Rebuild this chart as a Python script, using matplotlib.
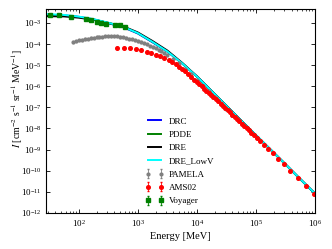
import numpy as np
import matplotlib
matplotlib.use('Agg')
import matplotlib.pyplot as plt

plt.rcParams['font.family'] = ['Liberation Serif', 'DejaVu Serif']
plt.rcParams['mathtext.fontset'] = 'stix'

# log10 of kinetic energy [MeV] and log10 of intensity
model_loge = np.array([1.45, 1.75, 2.0, 2.25, 2.5, 2.75, 3.0, 3.25, 3.5, 3.75,
                       4.0, 4.25, 4.5, 4.75, 5.0, 5.25, 5.5, 5.75, 6.0])
drc = np.array([-2.61, -2.64, -2.71, -2.83, -3.01, -3.20, -3.50, -3.92, -4.36, -4.92,
                -5.54, -6.23, -6.93, -7.63, -8.32, -9.01, -9.70, -10.40, -11.09])
pdde = np.array([-2.62, -2.65, -2.72, -2.84, -3.00, -3.18, -3.48, -3.90, -4.35, -4.91,
                 -5.54, -6.23, -6.93, -7.63, -8.32, -9.01, -9.70, -10.40, -11.09])
dre = np.array([-2.68, -2.69, -2.75, -2.85, -3.00, -3.16, -3.45, -3.86, -4.31, -4.89,
                -5.53, -6.23, -6.93, -7.63, -8.32, -9.01, -9.70, -10.40, -11.09])
dre_lowv = np.array([-2.58, -2.62, -2.70, -2.82, -2.99, -3.18, -3.48, -3.90, -4.35, -4.91,
                     -5.54, -6.23, -6.93, -7.63, -8.32, -9.01, -9.70, -10.40, -11.09])

pam_loge = np.array([1.90, 1.95, 2.00, 2.05, 2.10, 2.15, 2.20, 2.25, 2.30, 2.35, 2.40,
                     2.45, 2.50, 2.55, 2.60, 2.65, 2.70, 2.75, 2.80, 2.85, 2.90, 2.95,
                     3.00, 3.05, 3.10, 3.15, 3.20, 3.25, 3.30, 3.35, 3.40, 3.45, 3.50,
                     3.60, 3.70, 3.80, 3.90, 4.00, 4.10, 4.20, 4.30, 4.40, 4.50, 4.60, 4.70])
pam_logi = np.array([-3.91, -3.87, -3.83, -3.80, -3.77, -3.74, -3.72, -3.69, -3.67, -3.66,
                     -3.65, -3.64, -3.63, -3.63, -3.63, -3.64, -3.66, -3.68, -3.71, -3.74,
                     -3.78, -3.82, -3.86, -3.91, -3.96, -4.01, -4.07, -4.14, -4.21, -4.28,
                     -4.35, -4.43, -4.52, -4.70, -4.92, -5.16, -5.42, -5.70, -5.97, -6.24,
                     -6.52, -6.80, -7.07, -7.35, -7.62])

ams_loge = np.array([2.64, 2.76, 2.87, 2.97, 3.06, 3.15, 3.23, 3.31, 3.38, 3.45, 3.52,
                     3.58, 3.64, 3.70, 3.75, 3.80, 3.85, 3.90, 3.95, 4.00, 4.04, 4.08,
                     4.12, 4.16, 4.20, 4.24, 4.28, 4.32, 4.36, 4.40, 4.44, 4.48, 4.52,
                     4.56, 4.60, 4.64, 4.68, 4.72, 4.76, 4.80, 4.84, 4.88, 4.92, 4.97,
                     5.02, 5.07, 5.13, 5.20, 5.28, 5.37, 5.47, 5.58, 5.71, 5.85, 5.99])
ams_logi = np.array([-4.17, -4.17, -4.20, -4.24, -4.30, -4.36, -4.42, -4.50, -4.57, -4.66,
                     -4.76, -4.84, -4.95, -5.07, -5.18, -5.30, -5.42, -5.55, -5.68, -5.80,
                     -5.91, -6.01, -6.11, -6.21, -6.31, -6.41, -6.51, -6.62, -6.72, -6.82,
                     -6.93, -7.03, -7.13, -7.24, -7.34, -7.45, -7.55, -7.66, -7.77, -7.87,
                     -7.98, -8.09, -8.20, -8.33, -8.47, -8.60, -8.77, -8.96, -9.18, -9.43,
                     -9.70, -10.00, -10.36, -10.74, -11.12])

voy_loge = np.array([1.52, 1.67, 1.87, 2.12, 2.20, 2.30, 2.38, 2.46, 2.62, 2.70, 2.78])
voy_logi = np.array([-2.63, -2.63, -2.71, -2.83, -2.88, -2.94, -3.00, -3.06, -3.09, -3.12, -3.18])

fig = plt.figure(figsize=(3.32, 2.49), dpi=100)
ax = fig.add_axes([0.139, 0.145, 0.810, 0.819])

E = 10**model_loge
ax.plot(E, 10**drc, color='blue', lw=1.4, label='DRC')
ax.plot(E, 10**pdde, color='green', lw=1.4, label='PDDE')
ax.plot(E, 10**dre, color='black', lw=1.4, label='DRE')
ax.plot(E, 10**dre_lowv, color='cyan', lw=1.4, label='DRE_LowV')

pam = 10**pam_logi
ax.errorbar(10**pam_loge, pam, yerr=0.08*pam, fmt='o', ms=2, color='gray',
            elinewidth=0.6, capsize=1, label='PAMELA')
ams = 10**ams_logi
ax.errorbar(10**ams_loge, ams, yerr=0.05*ams, fmt='o', ms=2.6, color='red',
            elinewidth=0.6, capsize=1, label='AMS02')
voy = 10**voy_logi
ax.errorbar(10**voy_loge, voy, yerr=0.08*voy, fmt='s', ms=2.6, color='green',
            elinewidth=0.6, capsize=1, label='Voyager')

ax.set_xscale('log')
ax.set_yscale('log')
ax.set_xlim(28, 1e6)
ax.set_ylim(1e-12, 4.6e-3)
ax.set_yticks([10.0**k for k in range(-12, -2)])
ax.yaxis.set_minor_locator(matplotlib.ticker.NullLocator())
ax.tick_params(which='both', direction='in', top=True, right=True, labelsize=6.5)
ax.tick_params(which='major', length=3, width=0.6)
ax.tick_params(which='minor', length=1.5, width=0.5)
for s in ax.spines.values():
    s.set_linewidth(0.8)

ax.set_xlabel('Energy [MeV]', fontsize=7.5, labelpad=2)
ax.set_ylabel(r'$I$ [cm$^{-2}$ s$^{-1}$ sr$^{-1}$ MeV$^{-1}$]', fontsize=7)
ax.yaxis.set_label_coords(-0.078, 0.56)

ax.legend(loc='upper left', bbox_to_anchor=(0.345, 0.5), frameon=False, fontsize=6.5,
          handlelength=2.0, labelspacing=0.55, handletextpad=0.6, borderpad=0.2,
          numpoints=2)

fig.savefig('out.png', dpi=100)
